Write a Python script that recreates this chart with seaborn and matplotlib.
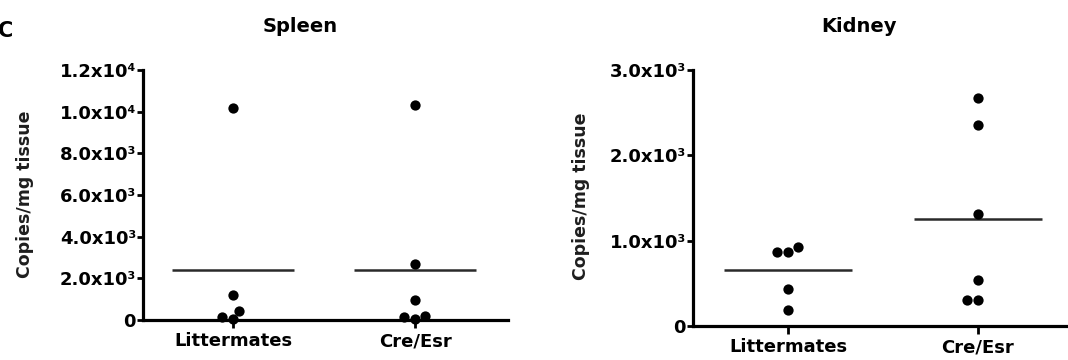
import numpy as np
import pandas as pd
import matplotlib
matplotlib.use("Agg")
import matplotlib.pyplot as plt
import seaborn as sns

# Valeurs (copies/mg tissue)
groups = ["Littermates", "Cre/Esr"]
spleen_litter = [10200, 1200, 450, 30, 130]
spleen_cre = [10300, 2700, 950, 200, 30, 130]
kidney_litter = [920, 870, 870, 430, 190]
kidney_cre = [2670, 2350, 1310, 540, 310, 310]

spleen_ticks = [0, 2000, 4000, 6000, 8000, 10000, 12000]
spleen_ticklabels = ["0", "2.0x10³", "4.0x10³", "6.0x10³", "8.0x10³", "1.0x10⁴", "1.2x10⁴"]
kidney_ticks = [0, 1000, 2000, 3000]
kidney_ticklabels = ["0", "1.0x10³", "2.0x10³", "3.0x10³"]

sns.set_style("ticks")
plt.rcParams["font.family"] = ["DejaVu Sans"]
plt.rcParams["font.weight"] = "bold"
plt.rcParams["text.color"] = "black"

fig = plt.figure(figsize=(10.68, 3.6), dpi=100)
ax1 = fig.add_axes([143 / 1068, 40 / 360, 365 / 1068, 250 / 360])
ax2 = fig.add_axes([693 / 1068, 34 / 360, 375 / 1068, 256 / 360])


def panel(ax, litter, cre, ticks, ticklabels, title, title_x, xlim, label_x):
    df = pd.DataFrame({
        "group": [groups[0]] * len(litter) + [groups[1]] * len(cre),
        "value": litter + cre,
    })
    sns.swarmplot(data=df, x="group", y="value", order=groups, color="black",
                  size=7.4, ax=ax)
    for c in ax.collections:
        c.set_clip_on(False)
    # lignes des moyennes
    for i, vals in enumerate([litter, cre]):
        ax.hlines(np.mean(vals), i - 0.335, i + 0.335, color="#2a2a2a", lw=1.8, zorder=1)
    ax.set_ylim(ticks[0], ticks[-1])
    ax.set_xlim(*xlim)
    ax.set_yticks(ticks)
    ax.set_yticklabels(ticklabels, fontsize=13, fontweight="bold", color="black")
    ax.set_xticks([0, 1])
    ax.set_xticklabels(groups, fontsize=13, fontweight="bold", color="black")
    ax.set_xlabel("")
    ax.set_ylabel("Copies/mg tissue", fontsize=12.5, fontweight="bold", color="#1e1e1e")
    ax.yaxis.set_label_coords(label_x, 0.505)
    sns.despine(ax=ax)
    for s in ["left", "bottom"]:
        ax.spines[s].set_linewidth(2.3)
        ax.spines[s].set_color("black")
    ax.tick_params(axis="y", length=4, width=2, pad=1, colors="black")
    ax.tick_params(axis="x", length=6, width=2, pad=3, colors="black")
    fig.text(title_x, 0.925, title, fontsize=14, fontweight="bold", color="black",
             ha="center", va="center")


panel(ax1, spleen_litter, spleen_cre, spleen_ticks, spleen_ticklabels,
      "Spleen", 300 / 1068, (-0.495, 1.511), -0.30)
panel(ax2, kidney_litter, kidney_cre, kidney_ticks, kidney_ticklabels,
      "Kidney", 859 / 1068, (-0.5, 1.474), -0.275)

fig.text(-0.002, 0.915, "C", fontsize=15, fontweight="bold", color="black",
         ha="left", va="center")

fig.savefig("out.png", dpi=100)
